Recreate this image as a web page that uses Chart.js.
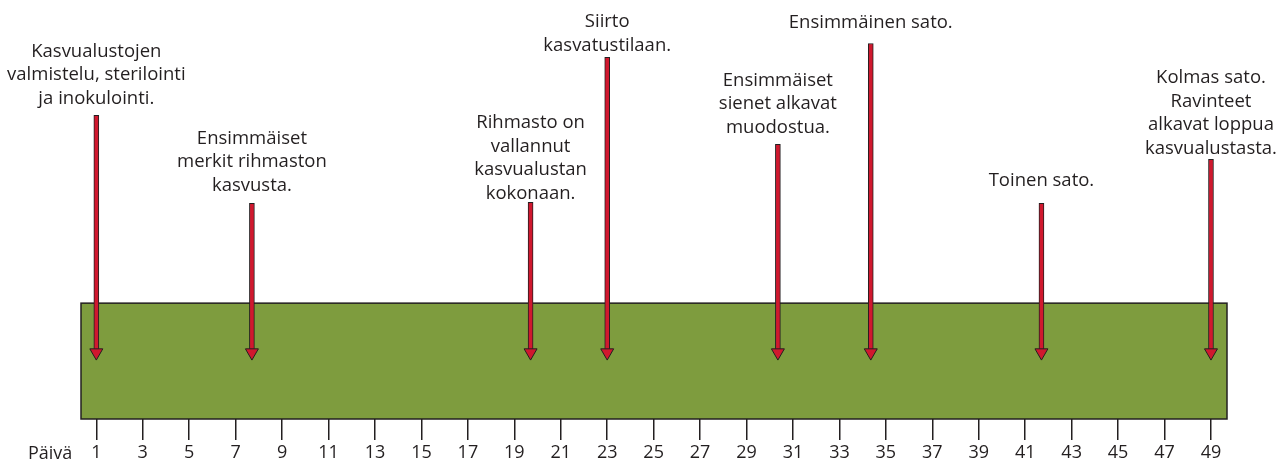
<!DOCTYPE html>
<html>
<head>
<meta charset="utf-8">
<script src="https://cdn.jsdelivr.net/npm/chart.js@4"></script>
<style>
  html, body { margin: 0; padding: 0; background: #fff; }
  #wrap { width: 1276px; height: 464px; }
</style>
</head>
<body>
<div id="wrap"><canvas id="timeline"></canvas></div>
<script>
// days shown on the axis
const dayTicks = [1,3,5,7,9,11,13,15,17,19,21,23,25,27,29,31,33,35,37,39,41,43,45,47,49];
// event day for each arrow
const eventDays = [1, 7.7, 19.7, 23, 30.35, 34.35, 41.7, 49];
// height of each arrow top (same units as the y scale)
const arrowTops = [304, 216, 217, 362, 275, 376, 216, 260];
const eventLabels = [
  ['Kasvualustojen', 'valmistelu, sterilointi', 'ja inokulointi.'],
  ['Ensimmäiset', 'merkit rihmaston', 'kasvusta.'],
  ['Rihmasto on', 'vallannut', 'kasvualustan', 'kokonaan.'],
  ['Siirto', 'kasvatustilaan.'],
  ['Ensimmäiset', 'sienet alkavat', 'muodostua.'],
  ['Ensimmäinen sato.'],
  ['Toinen sato.'],
  ['Kolmas sato.', 'Ravinteet', 'alkavat loppua', 'kasvualustasta.']
];
const labelGaps = [17, 18, 9, 12, 17, 21, 23, 11];
const barHeight = 116;   // green block
const arrowTip = 66.5;   // where the heads sit
const dayMin = 0.34, dayMax = 49.69;

const ink = '#231f20';
const FONT = '"Open Sans", sans-serif';

const blockPlugin = {
  id: 'block',
  beforeDatasetsDraw(chart) {
    const {ctx, scales: {x, y}} = chart;
    const l = x.getPixelForValue(dayMin), r = x.getPixelForValue(dayMax);
    const t = y.getPixelForValue(barHeight), b = y.getPixelForValue(0);
    ctx.save();
    ctx.fillStyle = '#7e9c3e';
    ctx.fillRect(l, t, r - l, b - t);
    ctx.strokeStyle = ink;
    ctx.lineWidth = 1.5;
    ctx.strokeRect(l, t, r - l, b - t);
    ctx.restore();
  },
  afterDatasetsDraw(chart) {
    const {ctx, scales: {x, y}} = chart;
    ctx.save();
    ctx.fillStyle = ink;
    ctx.font = '18.5px ' + FONT;
    ctx.textAlign = 'center';
    ctx.textBaseline = 'middle';
    const lh = 23.5;
    eventLabels.forEach((lines, i) => {
      const cx = x.getPixelForValue(eventDays[i]);
      const base = y.getPixelForValue(arrowTops[i]) - labelGaps[i];
      lines.forEach((s, k) => {
        ctx.fillText(s, cx, base - (lines.length - 1 - k) * lh);
      });
    });
    // axis caption
    ctx.font = '18px ' + FONT;
    ctx.textAlign = 'left';
    ctx.fillText('Päivä', 28, 454);
    ctx.restore();
  }
};

new Chart(document.getElementById('timeline'), {
  type: 'bar',
  data: {
    datasets: [
      {
        type: 'scatter',
        data: eventDays.map(d => ({x: d, y: arrowTip})),
        pointStyle: 'triangle',
        rotation: 180,
        pointRadius: 7.5,
        pointHoverRadius: 7.5,
        backgroundColor: '#d0182e',
        borderColor: ink,
        borderWidth: 1,
        order: 1
      },
      {
        type: 'bar',
        data: eventDays.map((d, i) => ({x: d, y: [arrowTip, arrowTops[i]]})),
        backgroundColor: '#d0182e',
        borderColor: ink,
        borderWidth: 1,
        borderSkipped: false,
        barThickness: 5,
        order: 2
      }
    ]
  },
  options: {
    responsive: true,
    maintainAspectRatio: false,
    animation: false,
    layout: { padding: { left: 81, right: 49, top: 0, bottom: 0 } },
    plugins: { legend: { display: false }, tooltip: { enabled: false } },
    scales: {
      x: {
        type: 'linear',
        offset: false,
        min: dayMin,
        max: dayMax,
        afterBuildTicks(scale) { scale.ticks = dayTicks.map(v => ({value: v})); },
        afterFit(scale) { scale.height = 45; },
        grid: { offset: false, drawOnChartArea: false, drawTicks: true, tickLength: 21, color: ink, lineWidth: 1.5 },
        border: { display: false },
        ticks: { color: ink, font: { family: FONT, size: 18 }, padding: 2, maxRotation: 0, autoSkip: false }
      },
      y: {
        display: false,
        min: 0,
        max: 411
      }
    }
  },
  plugins: [blockPlugin]
});
</script>
</body>
</html>
